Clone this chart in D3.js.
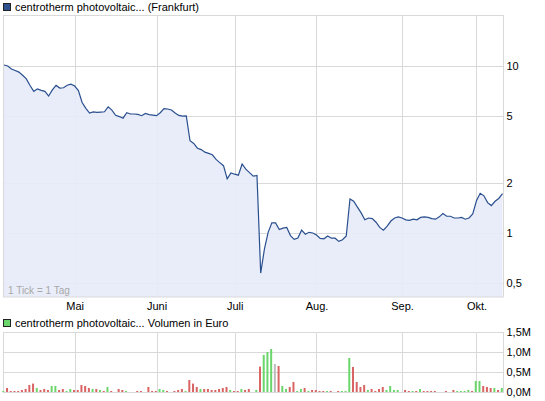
<!DOCTYPE html>
<html>
<head>
<meta charset="utf-8">
<script src="https://cdn.jsdelivr.net/npm/d3@7/dist/d3.min.js"></script>
<style>
  body { margin: 0; background: #fff; }
  text { font-family: "Liberation Sans", Arial, sans-serif; }
</style>
</head>
<body>
<svg id="chart"></svg>
<script>
const width = 545;
const height = 401;

// one value per trading day (1 Tick = 1 Tag), Frankfurt close in EUR
const prices = [
  10.14, 10.01, 9.60, 9.40, 9.19, 8.80, 8.37, 7.64, 7.05, 7.30,
  7.15, 7.05, 6.61, 7.19, 7.65, 7.38, 7.41, 7.67, 7.78, 7.59,
  7.13, 6.05, 5.58, 5.22, 5.31, 5.27, 5.30, 5.32, 5.69, 5.44,
  5.07, 4.98, 4.87, 5.25, 5.16, 5.16, 5.13, 5.04, 5.20, 5.12,
  5.08, 5.04, 5.25, 5.55, 5.53, 5.45, 5.23, 5.06, 5.01, 5.03,
  3.57, 3.44, 3.22, 3.16, 3.05, 3.00, 2.94, 2.76, 2.64, 2.53,
  2.11, 2.29, 2.25, 2.22, 2.59, 2.41, 2.30, 2.19, 2.21, 0.576,
  0.80, 1.01, 1.15, 1.15, 1.05, 1.07, 1.08, 0.965, 0.917, 0.933,
  1.04, 0.984, 1.01, 1.00, 0.974, 0.928, 0.923, 0.96, 0.931, 0.931,
  0.891, 0.911, 0.96, 1.60, 1.55, 1.43, 1.32, 1.20, 1.23, 1.22,
  1.16, 1.08, 1.04, 1.10, 1.18, 1.23, 1.25, 1.23, 1.20, 1.19,
  1.21, 1.20, 1.24, 1.25, 1.24, 1.22, 1.21, 1.25, 1.31, 1.26,
  1.26, 1.23, 1.23, 1.24, 1.21, 1.23, 1.30, 1.56, 1.73, 1.67,
  1.52, 1.46, 1.55, 1.61, 1.72
];

// volume in thousand euro, same days
const volumes = [
  33, 108, 33, 33, 33, 58, 83, 183, 218, 108,
  58, 83, 58, 158, 158, 58, 83, 33, 83, 58,
  58, 183, 158, 108, 83, 83, 58, 33, 133, 33,
  0, 83, 58, 33, 0, 0, 33, 33, 0, 133,
  33, 33, 83, 58, 33, 0, 33, 58, 83, 33,
  308, 218, 133, 83, 83, 83, 58, 58, 83, 108,
  133, 58, 33, 33, 83, 58, 83, 0, 58, 643,
  933, 1008, 1083, 708, 658, 158, 83, 133, 258, 33,
  83, 108, 33, 58, 58, 33, 33, 33, 33, 0,
  33, 33, 33, 858, 633, 258, 133, 183, 58, 83,
  33, 83, 133, 58, 158, 58, 58, 0, 58, 33,
  33, 33, 83, 33, 33, 33, 33, 0, 0, 33,
  0, 58, 33, 33, 33, 58, 33, 283, 283, 158,
  133, 108, 108, 58, 108
];

// u = up day, d = down day, n = unchanged
const moves = [
  "uddddddddu", "ddduudduud", "ddddududud", "nddunnddnd", "dduudndddu",
  "dddudddddd", "dudduddnud", "uuunduuddu", "ududdddudn", "duuuddddud",
  "ddduuuundd", "ududdddnnd", "nduuuuduud", "ddudu"
].join("").split("");

const monthTicks = [19, 41, 62, 84, 107, 127];
const monthLabels = ["Mai", "Juni", "Juli", "Aug.", "Sep.", "Okt."];

const priceTicks = [0.5, 1, 2, 5, 10];
const priceLabels = ["0,5", "1", "2", "5", "10"];
const volTicks = [0, 500, 1000, 1500];
const volLabels = ["0,0M", "0,5M", "1,0M", "1,5M"];

const title = "centrotherm photovoltaic... (Frankfurt)";
const volTitle = "centrotherm photovoltaic... Volumen in Euro";

const svg = d3
  .select("#chart")
  .attr("width", width)
  .attr("height", height);

const gridColor = "#d9d9d9";
const plotLeft = 3.5;
const plotRight = 503.5;

const x = d3.scaleLinear().domain([0, prices.length - 1]).range([4, 502.5]);
const y = d3.scaleLog().domain([0.414, 20.2]).range([297, 15]);
const yVol = d3.scaleLinear().domain([0, 1500]).range([392.3, 332.3]);

// ---- price panel ----
const pricePanel = svg.append("g");

pricePanel
  .selectAll(".hgrid")
  .data(priceTicks)
  .enter()
  .append("line")
  .attr("x1", plotLeft)
  .attr("x2", plotRight)
  .attr("y1", (d) => Math.round(y(d)) + 0.5)
  .attr("y2", (d) => Math.round(y(d)) + 0.5)
  .attr("stroke", gridColor);

pricePanel
  .selectAll(".vgrid")
  .data(monthTicks)
  .enter()
  .append("line")
  .attr("x1", (d) => Math.round(x(d)) + 0.5)
  .attr("x2", (d) => Math.round(x(d)) + 0.5)
  .attr("y1", 15)
  .attr("y2", 297)
  .attr("stroke", gridColor);

const area = d3
  .area()
  .x((d, i) => x(i))
  .y0(297)
  .y1((d) => y(d));

pricePanel
  .append("path")
  .datum(prices)
  .attr("d", area)
  .attr("fill", "#e5ebf8")
  .attr("fill-opacity", 0.9);

const line = d3
  .line()
  .x((d, i) => x(i))
  .y((d) => y(d));

pricePanel
  .append("path")
  .datum(prices)
  .attr("d", line)
  .attr("fill", "none")
  .attr("stroke", "#2a4f8f")
  .attr("stroke-width", 1.2);

// frame
pricePanel
  .append("rect")
  .attr("x", plotLeft)
  .attr("y", 15.5)
  .attr("width", plotRight - plotLeft)
  .attr("height", 297 - 15.5)
  .attr("fill", "none")
  .attr("stroke", gridColor);

pricePanel
  .append("text")
  .attr("x", 8)
  .attr("y", 294)
  .attr("font-size", "10px")
  .attr("fill", "#a8a8a8")
  .text("1 Tick = 1 Tag");

// right price axis
const yAxis = d3
  .axisRight(y)
  .tickValues(priceTicks)
  .tickSize(0)
  .tickPadding(3)
  .tickFormat((d, i) => priceLabels[i]);

svg
  .append("g")
  .attr("transform", `translate(${plotRight},0)`)
  .call(yAxis)
  .call((g) => g.select(".domain").remove())
  .selectAll("text")
  .attr("font-size", "11px")
  .attr("fill", "#000");

// month labels
const xAxis = d3
  .axisBottom(x)
  .tickValues(monthTicks)
  .tickSize(0)
  .tickPadding(4)
  .tickFormat((d, i) => monthLabels[i]);

svg
  .append("g")
  .attr("transform", "translate(0,298)")
  .call(xAxis)
  .call((g) => g.select(".domain").remove())
  .selectAll("text")
  .attr("font-size", "11px")
  .attr("fill", "#000");

// legend top
svg
  .append("rect")
  .attr("x", 3.5)
  .attr("y", 3.5)
  .attr("width", 7)
  .attr("height", 7)
  .attr("fill", "#2e5290")
  .attr("stroke", "#222");

svg
  .append("text")
  .attr("x", 15)
  .attr("y", 11)
  .attr("font-size", "11px")
  .text(title);

// ---- volume panel ----
const volPanel = svg.append("g");

volPanel
  .selectAll(".vhgrid")
  .data(volTicks.slice(1))
  .enter()
  .append("line")
  .attr("x1", plotLeft)
  .attr("x2", plotRight)
  .attr("y1", (d) => Math.round(yVol(d)) + 0.5)
  .attr("y2", (d) => Math.round(yVol(d)) + 0.5)
  .attr("stroke", gridColor);

volPanel
  .selectAll(".vvgrid")
  .data(monthTicks)
  .enter()
  .append("line")
  .attr("x1", (d) => Math.round(x(d)) + 0.5)
  .attr("x2", (d) => Math.round(x(d)) + 0.5)
  .attr("y1", 332)
  .attr("y2", 393)
  .attr("stroke", gridColor);

volPanel
  .append("line")
  .attr("x1", plotLeft)
  .attr("x2", plotLeft)
  .attr("y1", 332)
  .attr("y2", 393)
  .attr("stroke", gridColor);

volPanel
  .append("line")
  .attr("x1", plotRight)
  .attr("x2", plotRight)
  .attr("y1", 332)
  .attr("y2", 393)
  .attr("stroke", gridColor);

const barColor = { u: "#6bd66b", d: "#d96464", n: "#bdbdbd" };

volPanel
  .selectAll(".bar")
  .data(volumes)
  .enter()
  .append("rect")
  .attr("class", "bar")
  .attr("x", (d, i) => x(i) - 1.7)
  .attr("width", 2)
  .attr("y", (d) => yVol(d))
  .attr("height", (d) => yVol(0) - yVol(d))
  .attr("fill", (d, i) => barColor[moves[i]]);

volPanel
  .append("line")
  .attr("x1", plotLeft)
  .attr("x2", plotRight)
  .attr("y1", 392.5)
  .attr("y2", 392.5)
  .attr("stroke", gridColor);

const volAxis = d3
  .axisRight(yVol)
  .tickValues(volTicks)
  .tickSize(0)
  .tickPadding(3)
  .tickFormat((d, i) => volLabels[i]);

svg
  .append("g")
  .attr("transform", `translate(${plotRight},0)`)
  .call(volAxis)
  .call((g) => g.select(".domain").remove())
  .selectAll("text")
  .attr("font-size", "11px")
  .attr("fill", "#000");

svg
  .append("rect")
  .attr("x", 3.5)
  .attr("y", 319.5)
  .attr("width", 7)
  .attr("height", 7)
  .attr("fill", "#6bd66b")
  .attr("stroke", "#222");

svg
  .append("text")
  .attr("x", 15)
  .attr("y", 327)
  .attr("font-size", "11px")
  .text(volTitle);
</script>
</body>
</html>
